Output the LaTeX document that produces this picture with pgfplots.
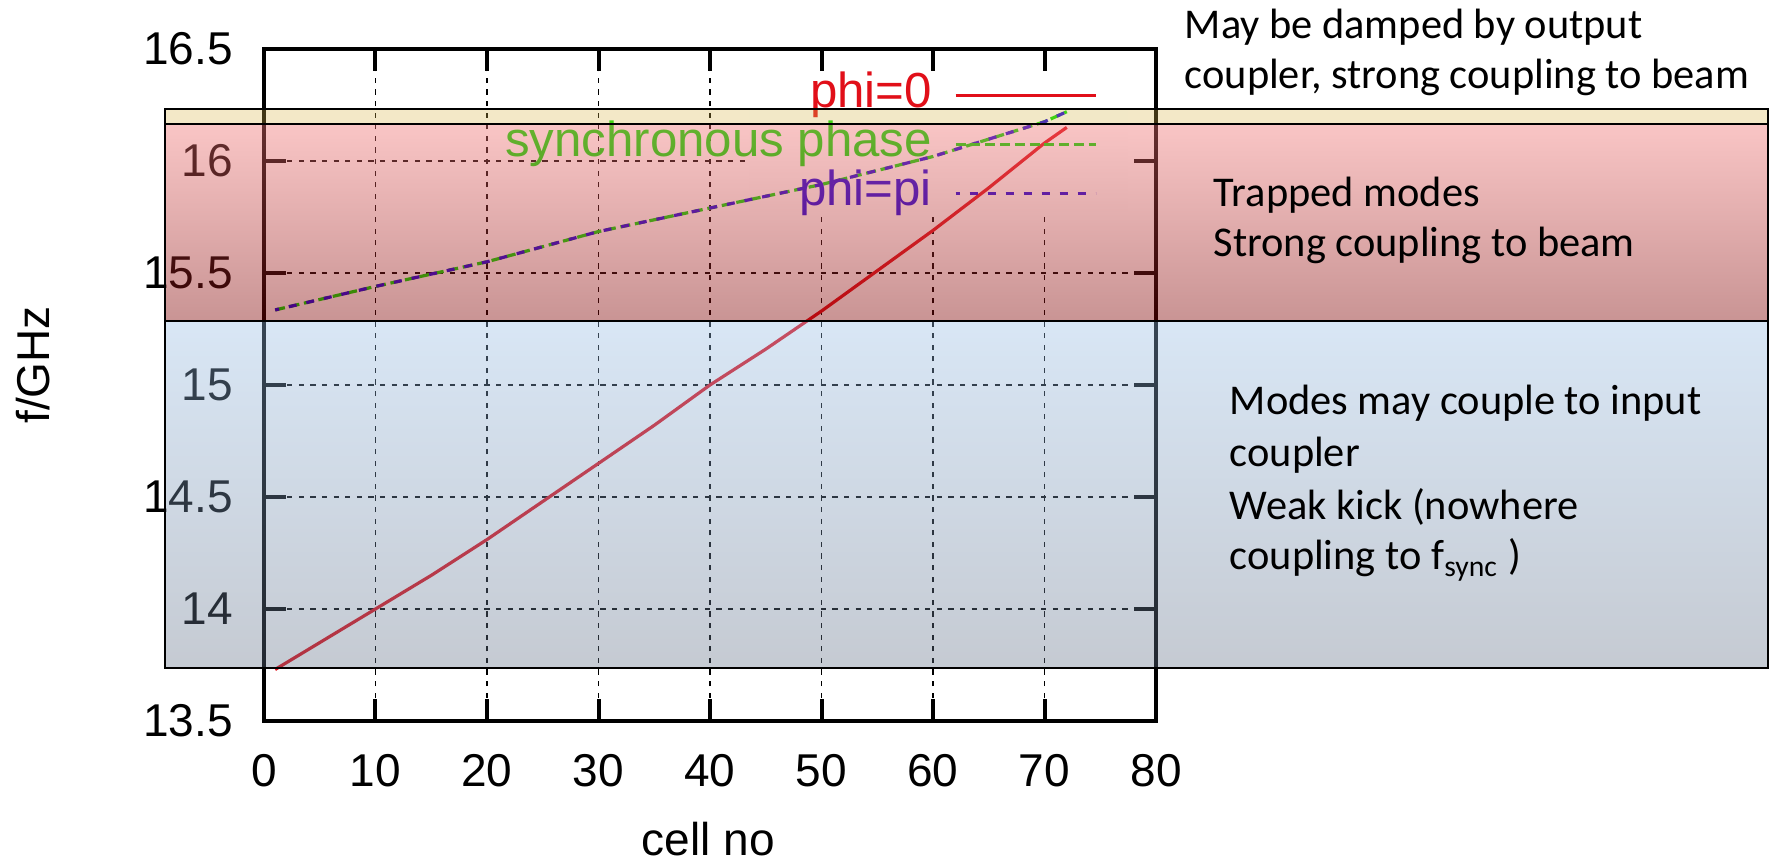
\documentclass[border=0pt]{standalone}
\usepackage{fontspec}
\setmainfont{Liberation Sans}
\newfontfamily\calfont{Carlito}
\usepackage{pgfplots}
\pgfplotsset{compat=1.18}

% curve colours
\definecolor{curvered}{RGB}{225,15,25}
\definecolor{curvegreen}{RGB}{0,225,0}
\definecolor{curveblue}{RGB}{25,0,225}
% translucent frequency bands
\definecolor{redtop}{RGB}{241,117,117}
\definecolor{redbot}{RGB}{126,0,0}
\definecolor{bluetop}{RGB}{150,188,228}
\definecolor{bluebot}{RGB}{98,112,134}
\definecolor{tanband}{RGB}{215,180,70}

% phi = 0 mode frequency along the structure
\pgfplotstableread{
cell f
1  13.73
5  13.85
10 14.00
15 14.15
20 14.31
25 14.48
30 14.65
35 14.82
40 15.00
45 15.16
50 15.33
55 15.51
60 15.69
65 15.88
70 16.08
72 16.15
}\phizero

% synchronous phase frequency
\pgfplotstableread{
cell f
1  15.335
10 15.44
20 15.55
30 15.685
40 15.79
50 15.895
60 16.02
70 16.175
72 16.22
}\syncphase

% phi = pi mode frequency
\pgfplotstableread{
cell f
1  15.335
10 15.44
20 15.55
30 15.685
40 15.79
50 15.895
60 16.02
70 16.175
72 16.22
}\phipi

\begin{document}
\begin{tikzpicture}
\begin{axis}[
  scale only axis, width=223pt, height=168pt,
  at={(0,0)}, anchor=south west,
  xmin=0, xmax=80, ymin=13.5, ymax=16.5,
  xtick={0,10,...,80}, ytick={13.5,14,...,16.5},
  axis line style={line width=1pt, black},
  tick style={line width=1pt, black},
  major tick length=5.5pt,
  grid=major,
  grid style={line width=0.35pt, black, dash pattern=on 1.3pt off 1.6pt},
  tick label style={font=\fontsize{11.5}{13}\selectfont},
  /pgf/number format/assume math mode=true,
  yticklabel style={xshift=-4.3pt},
  xticklabel style={yshift=-4.7pt},
  xlabel={cell no}, ylabel={f/GHz},
  label style={font=\fontsize{11.5}{13}\selectfont},
  xlabel style={at={(axis description cs:0.498,-0.176)}, anchor=center, inner sep=1pt},
  ylabel style={at={(axis description cs:-0.259,0.53)}, anchor=center},
  legend plot pos=right,
  legend cell align=right,
  legend image code/.code={\draw[#1] (0pt,0pt) -- (35pt,0pt);},
  legend style={draw=none, fill=none, inner sep=0pt, outer sep=0pt,
    at={(axis description cs:0.934,0.96)}, anchor=north east,
    font=\fontsize{12.3}{14}\selectfont,
    nodes={text height=8pt, text depth=2pt, inner sep=0pt},
    row sep=2.25pt, column sep=5.5pt},
]
% key area
\fill[white] (axis cs:43.5,15.77) rectangle (axis cs:77.5,16.40);

\addplot[curvered, line width=0.8pt] table[x=cell, y=f] {\phizero};
\addlegendentry{\textcolor{curvered}{phi=0}}
\addplot[curvegreen, line width=0.8pt, dash pattern=on 2.5pt off 1.2pt] table[x=cell, y=f] {\syncphase};
\addlegendentry{\textcolor{curvegreen}{synchronous phase}}
\addplot[curveblue, line width=0.8pt, dash pattern=on 2pt off 2.5pt, dash phase=1pt] table[x=cell, y=f] {\phipi};
\addlegendentry{\textcolor{curveblue}{phi=pi}}

% band corners
\coordinate (tanNW) at (axis cs:-8.85,16.232);
\coordinate (tanSE) at (axis cs:134.87,16.165);
\coordinate (redNW) at (axis cs:-8.85,16.165);
\coordinate (redSE) at (axis cs:134.87,15.286);
\coordinate (bluNW) at (axis cs:-8.85,15.286);
\coordinate (bluSE) at (axis cs:134.87,13.737);
\end{axis}

% translucent bands over the plot
\fill[tanband, fill opacity=0.3] (tanNW) rectangle (tanSE);
\shade[top color=redtop, bottom color=redbot, fill opacity=0.42] (redNW) rectangle (redSE);
\shade[top color=bluetop, bottom color=bluebot, fill opacity=0.37] (bluNW) rectangle (bluSE);
\draw[line width=0.5pt, black] (tanNW) rectangle (tanSE);
\draw[line width=0.5pt, black] (redNW) rectangle (redSE);
\draw[line width=0.5pt, black] (bluNW) rectangle (bluSE);

% band notes, placed in pixel units (origin top left)
\begin{scope}[x=0.25pt, y=-0.25pt, shift={(-66pt,180.25pt)},
  every node/.style={anchor=base west, inner sep=0pt,
    font=\calfont\fontsize{10.6}{12}\selectfont}]
  \node at (1184,38.3) {May be damped by output};
  \node at (1184,88.3) {coupler, strong coupling to beam};
  \node at (1213,206.7) {Trapped modes};
  \node at (1213,256.7) {Strong coupling to beam};
  \node at (1229,415) {Modes may couple to input};
  \node at (1229,466.7) {coupler};
  \node at (1229,519.3) {Weak kick (nowhere};
  \node at (1229,570) {coupling to f\textsubscript{sync} )};
\end{scope}

% page frame
\pgfresetboundingbox
\begin{scope}[x=0.25pt, y=-0.25pt, shift={(-66pt,180.25pt)}]
  \path[use as bounding box] (0,0) rectangle (1773,862);
\end{scope}
\end{tikzpicture}
\end{document}
